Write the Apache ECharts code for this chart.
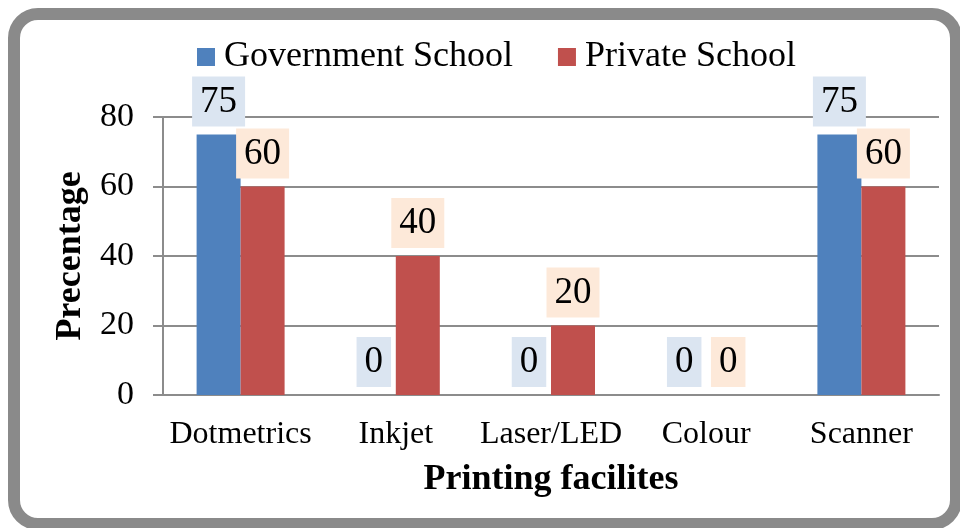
<!DOCTYPE html>
<html>
<head>
<meta charset="utf-8">
<script src="https://cdn.jsdelivr.net/npm/echarts@6/dist/echarts.min.js"></script>
<style>
html,body{margin:0;padding:0;background:#fff;}
#chart{width:960px;height:528px;}
</style>
</head>
<body>
<div id="chart"></div>
<script>
var categories = ['Dotmetrics', 'Inkjet', 'Laser/LED', 'Colour', 'Scanner'];
var governmentSchool = [75, 0, 0, 0, 75];
var privateSchool = [60, 40, 20, 0, 60];
var seriesNames = ['Government School', 'Private School'];
var yTicks = [0, 20, 40, 60, 80];

var FONT = '"Liberation Serif", "Times New Roman", serif';
var chart = echarts.init(document.getElementById('chart'), null, {renderer: 'canvas'});

function labelStyle(bg) {
  return {
    show: true,
    position: 'top',
    distance: 8,
    fontFamily: FONT,
    fontSize: 37,
    lineHeight: 37,
    color: '#000',
    backgroundColor: bg,
    padding: [7, 8, 6, 8]
  };
}

chart.setOption({
  animation: false,
  backgroundColor: '#fff',
  graphic: [{
    type: 'rect',
    shape: {x: 14, y: 14, width: 942, height: 510, r: 24},
    style: {fill: '#fff', stroke: '#8a8a8a', lineWidth: 12},
    z: -10
  }],
  legend: {
    left: 197,
    top: 39,
    padding: 0,
    itemWidth: 18,
    itemHeight: 18,
    itemGap: 45,
    icon: 'rect',
    textStyle: {fontFamily: FONT, fontSize: 36, color: '#000', padding: [0, 0, 0, 4]},
    data: seriesNames
  },
  grid: {left: 163, right: 21, top: 117, bottom: 133},
  xAxis: {
    type: 'category',
    data: categories,
    name: 'Printing facilites',
    nameLocation: 'middle',
    nameGap: 67,
    nameTextStyle: {fontFamily: FONT, fontSize: 36, fontWeight: 'bold', color: '#000'},
    axisLine: {show: true, lineStyle: {color: '#8c8c8c', width: 2}},
    axisTick: {show: false},
    axisLabel: {fontFamily: FONT, fontSize: 32, color: '#000', margin: 24, interval: 0}
  },
  yAxis: {
    type: 'value',
    min: yTicks[0],
    max: yTicks[yTicks.length - 1],
    interval: 20,
    name: 'Precentage',
    nameLocation: 'middle',
    nameGap: 69,
    nameTextStyle: {fontFamily: FONT, fontSize: 36, fontWeight: 'bold', color: '#000'},
    axisLine: {show: true, lineStyle: {color: '#8c8c8c', width: 2}},
    axisTick: {show: true, length: 10, lineStyle: {color: '#8c8c8c', width: 2}},
    splitLine: {show: true, lineStyle: {color: '#8c8c8c', width: 2}},
    axisLabel: {fontFamily: FONT, fontSize: 34, color: '#000', margin: 29}
  },
  series: [{
    name: seriesNames[0],
    type: 'bar',
    data: governmentSchool,
    barWidth: 44,
    barGap: '0%',
    itemStyle: {color: '#4f81bd'},
    label: labelStyle('#dbe5f1')
  }, {
    name: seriesNames[1],
    type: 'bar',
    data: privateSchool,
    barWidth: 44,
    barGap: '0%',
    itemStyle: {color: '#c0504d'},
    label: labelStyle('#fde9d9')
  }]
});
</script>
</body>
</html>
